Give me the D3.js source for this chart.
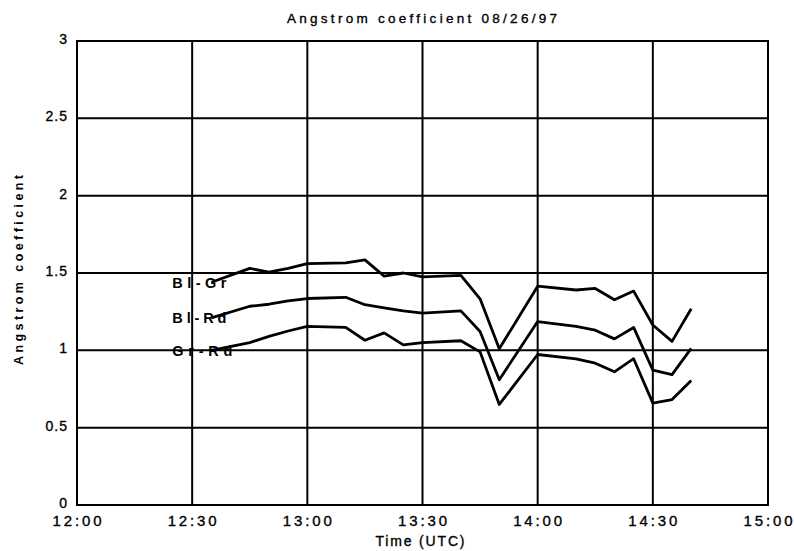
<!DOCTYPE html>
<html>
<head>
<meta charset="utf-8">
<script src="https://cdn.jsdelivr.net/npm/d3@7"></script>
<style>
  html, body { margin: 0; padding: 0; background: #fff; }
  svg { display: block; font-family: Arial, "Liberation Sans", sans-serif; }
  .dark { stroke: #000; stroke-width: 0.35px; }
</style>
</head>
<body>
<svg id="chart" width="794" height="551"></svg>
<script>
// minutes after 12:00 UTC
const times = [35, 45, 50, 55, 60, 70, 75, 80, 85, 90, 100, 105, 110, 120, 130, 135, 140, 145, 150, 155, 160];
const blGr = [1.44, 1.53, 1.505, 1.53, 1.56, 1.565, 1.585, 1.48, 1.50, 1.475, 1.485, 1.333, 1.01, 1.415, 1.39, 1.40, 1.327, 1.383, 1.164, 1.058, 1.269];
const blRd = [1.21, 1.285, 1.298, 1.32, 1.335, 1.343, 1.295, 1.275, 1.255, 1.24, 1.255, 1.122, 0.81, 1.186, 1.155, 1.13, 1.074, 1.148, 0.872, 0.843, 1.013];
const grRd = [1.00, 1.05, 1.09, 1.125, 1.155, 1.148, 1.065, 1.113, 1.035, 1.05, 1.062, 0.99, 0.65, 0.973, 0.945, 0.917, 0.861, 0.946, 0.659, 0.682, 0.805];
const seriesNames = ["Bl-Gr", "Bl-Rd", "Gr-Rd"];
const xTicks = [0, 30, 60, 90, 120, 150, 180];
const xTickLabels = ["12:00", "12:30", "13:00", "13:30", "14:00", "14:30", "15:00"];
const yTicks = [0, 0.5, 1, 1.5, 2, 2.5, 3];

const svg = d3.select("#chart");
const pLeft = 77, pRight = 768, pTop = 41, pBottom = 505;
const x = d3.scaleLinear().domain([0, 180]).range([pLeft, pRight]);
const y = d3.scaleLinear().domain([0, 3]).range([pBottom, pTop]);

// grid lines
svg.append("g").selectAll("line").data(xTicks).join("line")
  .attr("x1", d => x(d)).attr("x2", d => x(d))
  .attr("y1", pTop).attr("y2", pBottom)
  .attr("stroke", "#000").attr("stroke-width", 2);
svg.append("g").selectAll("line").data(yTicks).join("line")
  .attr("x1", pLeft).attr("x2", pRight)
  .attr("y1", d => y(d)).attr("y2", d => y(d))
  .attr("stroke", "#000").attr("stroke-width", 2);
svg.append("rect").attr("x", pLeft).attr("y", pTop)
  .attr("width", pRight - pLeft).attr("height", pBottom - pTop)
  .attr("fill", "none").attr("stroke", "#000").attr("stroke-width", 2);

// tick labels
svg.append("g").selectAll("text").data(yTicks).join("text")
  .attr("class", "dark")
  .attr("x", pLeft - 9).attr("y", d => y(d) - 2).attr("dy", "0.36em")
  .attr("text-anchor", "end").attr("font-size", 14)
  .style("letter-spacing", "1px")
  .text(d => d);
svg.append("g").selectAll("text").data(xTicks).join("text")
  .attr("class", "dark")
  .attr("x", d => x(d)).attr("y", pBottom + 21)
  .attr("text-anchor", "middle").attr("font-size", 15)
  .attr("textLength", 49).attr("lengthAdjust", "spacing")
  .text((d, i) => xTickLabels[i]);

// titles
svg.append("text").attr("class", "dark").attr("x", 422).attr("y", 23)
  .attr("text-anchor", "middle").attr("font-size", 13.5)
  .attr("textLength", 270).attr("lengthAdjust", "spacing")
  .text("Angstrom coefficient 08/26/97");
svg.append("text").attr("class", "dark").attr("x", 420).attr("y", 546)
  .attr("text-anchor", "middle").attr("font-size", 14)
  .attr("textLength", 89).attr("lengthAdjust", "spacing")
  .text("Time (UTC)");
svg.append("text")
  .attr("transform", `translate(23, 270) rotate(-90)`)
  .attr("text-anchor", "middle").attr("font-size", 12.5).attr("font-weight", "bold")
  .attr("textLength", 190).attr("lengthAdjust", "spacing")
  .text("Angstrom coefficient");

// series lines
const all = [blGr, blRd, grRd];
const line = d3.line().x((d, i) => x(times[i])).y(d => y(d));
svg.append("g").selectAll("path").data(all).join("path")
  .attr("d", d => line(d))
  .attr("fill", "none").attr("stroke", "#000").attr("stroke-width", 2.8)
  .attr("stroke-linejoin", "round");

// series labels at the start of each line
svg.append("g").selectAll("text").data(all).join("text")
  .attr("x", x(times[0]) - 39)
  .attr("y", d => y(d[0])).attr("dy", "0.36em")
  .attr("font-size", 14.5).attr("font-weight", "bold")
  .attr("textLength", (d, i) => i === 2 ? 60 : 54).attr("lengthAdjust", "spacing")
  .text((d, i) => seriesNames[i]);
</script>
</body>
</html>
